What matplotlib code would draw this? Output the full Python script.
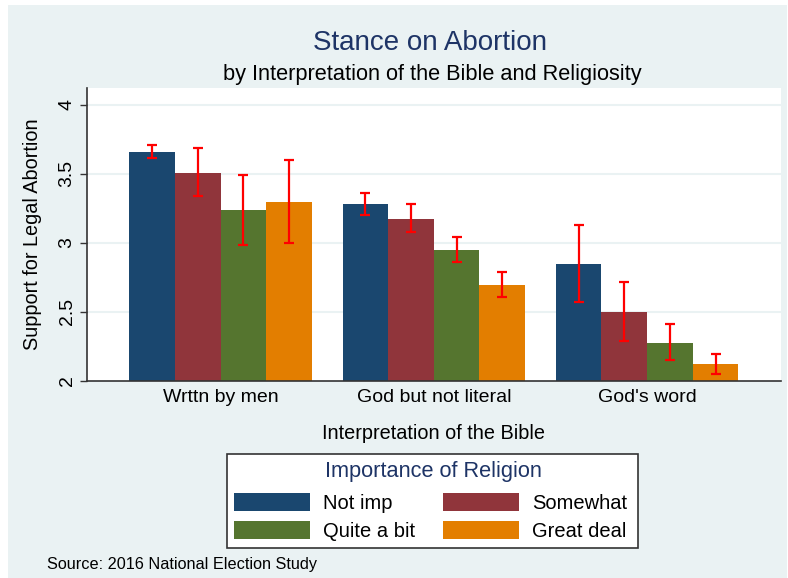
import matplotlib
matplotlib.use("Agg")
import matplotlib.pyplot as plt
from matplotlib.patches import Rectangle, Patch
import numpy as np

plt.rcParams['font.family'] = ['Liberation Sans', 'DejaVu Sans']

categories = ["Wrttn by men", "God but not literal", "God's word"]
series = ["Not imp", "Somewhat", "Quite a bit", "Great deal"]
means = {
    "Not imp":     [3.657, 3.283, 2.849],
    "Somewhat":    [3.508, 3.175, 2.499],
    "Quite a bit": [3.236, 2.945, 2.277],
    "Great deal":  [3.297, 2.695, 2.123],
}
ci_low = {
    "Not imp":     [3.613, 3.204, 2.573],
    "Somewhat":    [3.339, 3.077, 2.286],
    "Quite a bit": [2.982, 2.859, 2.152],
    "Great deal":  [3.001, 2.605, 2.049],
}
ci_high = {
    "Not imp":     [3.710, 3.363, 3.131],
    "Somewhat":    [3.684, 3.278, 2.715],
    "Quite a bit": [3.490, 3.040, 2.409],
    "Great deal":  [3.598, 2.790, 2.198],
}
yticks = [2, 2.5, 3, 3.5, 4]
ytick_labels = ["2", "2.5", "3", "3.5", "4"]

colors = ["#1a476f", "#90353b", "#55752f", "#e37e00"]
bg = "#eaf2f3"
navy_text = "#1e3466"

W, H = 788, 578
fig = plt.figure(figsize=(W / 100, H / 100), dpi=100)
fig.patch.set_facecolor("white")
fig.add_artist(Rectangle((8 / W, 0), 779 / W, 573 / H, transform=fig.transFigure,
                         facecolor=bg, edgecolor="none", zorder=-10))

ax = fig.add_axes([86.7 / W, 1 - 381 / H, (781 - 86.7) / W, (381 - 88) / H])
ax.set_facecolor("white")

x = np.arange(1, len(categories) + 1)
w = 0.214
handles = []
for i, s in enumerate(series):
    xs = x + (i - 1.5) * w
    m = np.array(means[s])
    lo = np.array(ci_low[s])
    hi = np.array(ci_high[s])
    ax.bar(xs, m - 2, bottom=2, width=w, color=colors[i], edgecolor="none", zorder=2)
    ax.errorbar(xs, m, yerr=[m - lo, hi - m], fmt="none", ecolor="#ff0000",
                elinewidth=1.6, capsize=3.8, capthick=1.6, zorder=3)
    handles.append(Patch(facecolor=colors[i], edgecolor="none", label=s))

ax.set_xlim(2 - 1.628, 2 + 1.628)
ax.set_ylim(2, 4.12)
ax.set_yticks(yticks)
ax.set_yticklabels(ytick_labels, rotation=90, va="center", fontsize=14)
ax.set_xticks(x)
ax.set_xticklabels(categories, fontsize=14)
ax.tick_params(axis="x", length=0, pad=6)
ax.tick_params(axis="y", length=5, width=1, color="#333333", pad=3)
for v in yticks[1:]:
    ax.axhline(v, color=bg, linewidth=1.5, zorder=1)

for side in ["top", "right"]:
    ax.spines[side].set_visible(False)
for side in ["left", "bottom"]:
    ax.spines[side].set_color("#333333")
    ax.spines[side].set_linewidth(1.2)

ax.set_ylabel("Support for Legal Abortion", fontsize=14.3, labelpad=12)
ax.set_xlabel("Interpretation of the Bible", fontsize=14.3, labelpad=13)

fig.text(430 / W, 1 - 43 / H, "Stance on Abortion", ha="center", va="center",
         fontsize=20, color=navy_text)
fig.text(432 / W, 1 - 74.5 / H, "by Interpretation of the Bible and Religiosity",
         ha="center", va="center", fontsize=15.7, color="black")

# legend: framed box with a title line and a 2x2 grid of entries
fig.add_artist(Rectangle((227 / W, 1 - 548 / H), (638 - 227) / W, (548 - 454) / H,
                         transform=fig.transFigure, facecolor="white",
                         edgecolor="#333333", linewidth=1.2, zorder=5))
fig.text(433 / W, 1 - 471 / H, "Importance of Religion", ha="center", va="center",
         fontsize=15.7, color=navy_text, zorder=6)
order = [0, 2, 1, 3]
leg = fig.legend([handles[k] for k in order], [series[k] for k in order], ncol=2,
                 loc="center", bbox_to_anchor=(430.5 / W, 1 - 517 / H),
                 fontsize=14.5, frameon=False, handlelength=3.78, handleheight=1.0,
                 handletextpad=0.65, columnspacing=1.35, labelspacing=0.37,
                 borderpad=0, borderaxespad=0)
leg.set_zorder(7)

fig.text(47 / W, 1 - 564 / H, "Source: 2016 National Election Study", ha="left",
         va="center", fontsize=11.7, color="black")

fig.savefig("out.png", dpi=100, facecolor=fig.get_facecolor())
